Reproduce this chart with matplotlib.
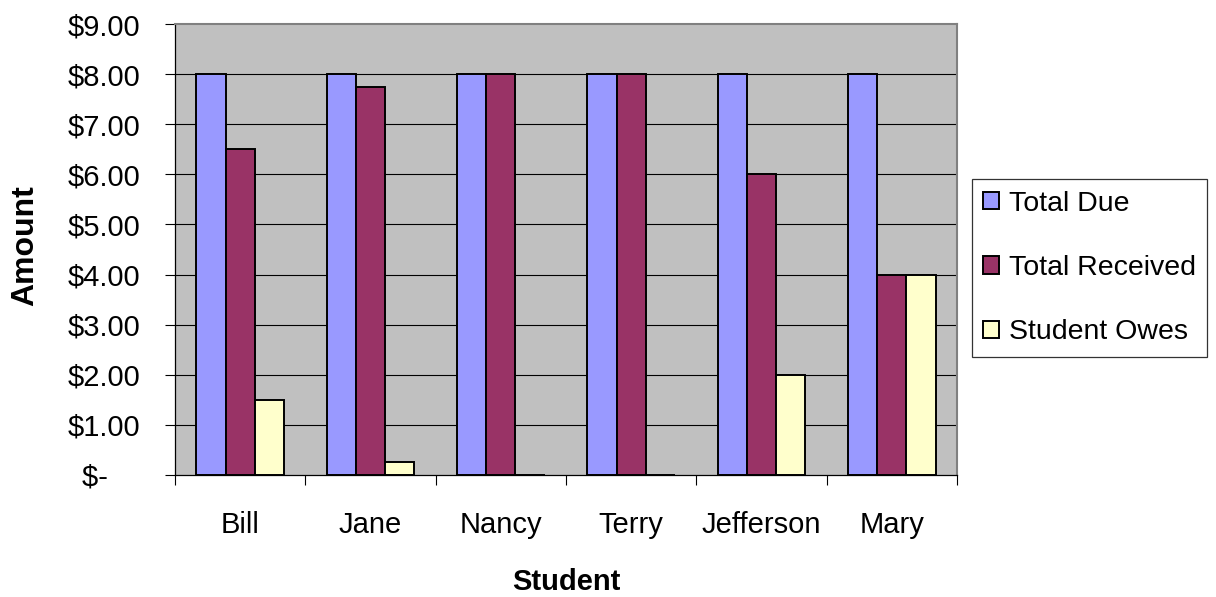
import numpy as np
import matplotlib.pyplot as plt

# -------------------------------
# Data
# -------------------------------
students = ["Bill", "Jane", "Nancy", "Terry", "Jefferson", "Mary"]
total_due = [8, 8, 8, 8, 8, 8]
total_received = [6.5, 7.75, 8, 8, 6, 4]
student_owes = [1.5, 0.25, 0, 0, 2, 4]

series_names = ["Total Due", "Total Received", "Student Owes"]
series_colors = ["#9999FF", "#993366", "#FFFFCC"]

y_ticks = [0, 1, 2, 3, 4, 5, 6, 7, 8, 9]
y_tick_labels = ["$-    ", "$1.00", "$2.00", "$3.00", "$4.00", "$5.00",
                 "$6.00", "$7.00", "$8.00", "$9.00"]

plt.rcParams["font.family"] = ["Liberation Sans", "DejaVu Sans"]

# -------------------------------
# Figure and axes
# -------------------------------
fig = plt.figure(figsize=(12.16, 5.97), dpi=100)
ax = fig.add_axes([175 / 1216, 122 / 597, 782 / 1216, 451 / 597])
ax.set_facecolor("#C0C0C0")

x = np.arange(len(students))
bar_w = 0.225
all_series = [total_due, total_received, student_owes]

for i, (vals, name, color) in enumerate(zip(all_series, series_names, series_colors)):
    ax.bar(x + (i - 1) * bar_w, vals, width=bar_w, color=color,
           edgecolor="black", linewidth=1.4, label=name, zorder=3)

ax.set_xlim(-0.5, len(students) - 0.5)
ax.set_ylim(0, 9)

# horizontal grid lines (top one is the border)
for yv in y_ticks[1:-1]:
    ax.axhline(yv, color="black", linewidth=0.8, zorder=1)

ax.set_yticks(y_ticks)
ax.set_yticklabels(y_tick_labels)
ax.tick_params(axis="y", direction="out", length=7, width=0.8,
               labelsize=21, pad=18)

# category labels centred, tick marks on category boundaries
ax.set_xticks(x)
ax.set_xticklabels(students)
ax.set_xticks(np.arange(-0.5, len(students), 1), minor=True)
ax.tick_params(axis="x", which="major", length=0, labelsize=21, pad=26)
ax.tick_params(axis="x", which="minor", direction="out", length=7, width=0.8)

for side in ["top", "right"]:
    ax.spines[side].set_color("#808080")
    ax.spines[side].set_linewidth(1.5)
for side in ["left", "bottom"]:
    ax.spines[side].set_color("black")
    ax.spines[side].set_linewidth(0.9)

fig.text(566 / 1216, 1 - 582 / 597, "Student", fontsize=21,
         fontweight="bold", ha="center", va="center")
fig.text(25 / 1216, 1 - 246 / 597, "Amount", fontsize=23,
         fontweight="bold", ha="center", va="center", rotation=90)

# -------------------------------
# Legend
# -------------------------------
leg = ax.legend(loc="center left", bbox_to_anchor=(972 / 1216, 1 - 268 / 597),
                bbox_transform=fig.transFigure, fontsize=20.5, frameon=True,
                fancybox=False, shadow=False, handlelength=0.55,
                handleheight=0.55, handletextpad=0.35, labelspacing=1.35,
                borderpad=0.4, borderaxespad=0)
leg.get_frame().set_edgecolor("black")
leg.get_frame().set_linewidth(0.9)
leg.get_frame().set_facecolor("white")

plt.savefig("out.png", dpi=100)
